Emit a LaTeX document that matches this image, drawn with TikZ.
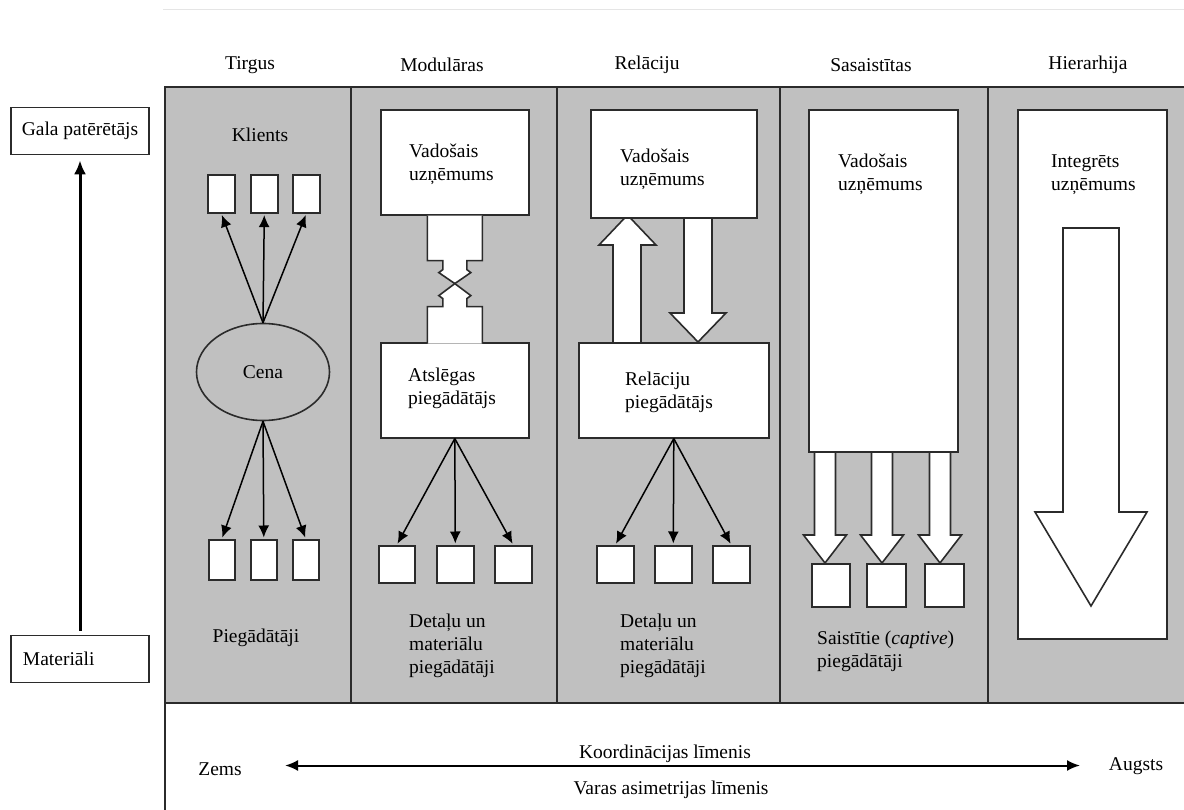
\documentclass[tikz,border=0pt]{standalone}
\usepackage{fontspec}
\setmainfont{Liberation Serif}
\usetikzlibrary{shapes.geometric,arrows.meta}
\definecolor{bgc}{HTML}{C0C0C0}
\definecolor{lc}{HTML}{2B2B2B}
\newcommand\mybox[5]{\node[box, minimum width=#4pt, minimum height=#5pt] (#1) at (#2,#3) {};}
\begin{document}
\begin{tikzpicture}[x=1pt,y=-1pt,
  every node/.style={font=\fontsize{19.5}{23}\selectfont, inner sep=0pt, text=black},
  box/.style={draw=lc, fill=white, line width=1.6pt, inner sep=0pt, anchor=north west},
  txt/.style={align=left, anchor=west, yshift=-3pt},
  lbl/.style={yshift=-2pt},
  thinarrow/.style={draw=black, line width=1.5pt, -{Latex[length=12pt,width=11pt]}, shorten >=1.5pt},
  blockarrow/.style={draw=lc, fill=white, line width=1.6pt, line join=miter},
  frame/.style={draw=lc, line width=1.6pt}]

\useasboundingbox (0,0) rectangle (1184,810);
\fill[white] (0,0) rectangle (1184,810);
\draw[black!10, line width=1pt] (163,10) -- (1184,10);

% grey panel
\fill[bgc] (165,87) rectangle (1184,703);
\draw[frame] (165,810) -- (165,87) -- (1184,87);
\draw[frame] (165,703) -- (1184,703);
\foreach \xx in {351,557,780,988} \draw[frame] (\xx,87) -- (\xx,703);

% headers
\node[lbl] (hT) at (250,63) {Tirgus};
\node[lbl] (hM) at (442,63) {Modulāras};
\node[lbl] (hR) at (647,63) {Relāciju};
\node[lbl] (hS) at (871,63) {Sasaistītas};
\node[lbl] (hH) at (1088,63) {Hierarhija};

% left side
\node[draw=lc, line width=1.6pt, fill=white, minimum width=138pt, minimum height=47pt] (gala) at (80,131) {Gala patērētājs};
\node[draw=lc, line width=1.6pt, fill=white, minimum width=138pt, minimum height=47pt, text width=114pt, align=left] (mat) at (80,659) {Materiāli};
\draw[draw=black, line width=3pt, -{Latex[length=14pt,width=12pt]}, shorten <=4pt, shorten >=5pt] (mat.north) -- (gala.south);

% ---- Tirgus
\node[lbl] (klients) at (260,133) {Klients};
\mybox{kt1}{207}{174}{27}{38}
\mybox{kt2}{250}{174}{27}{38}
\mybox{kt3}{292}{174}{27}{38}
\node[ellipse, draw=lc, line width=1.6pt, fill=bgc, minimum width=133pt, minimum height=97pt] (cena) at (263,372) {Cena};
\foreach \b in {kt1,kt2,kt3} \draw[thinarrow] (cena.north) -- (\b.south);
\mybox{kb1}{208}{539}{26}{40}
\mybox{kb2}{250}{539}{26}{40}
\mybox{kb3}{292}{539}{26}{40}
\foreach \b in {kb1,kb2,kb3} \draw[thinarrow] (cena.south) -- (\b.north);
\node[lbl] (pieg) at (256,636) {Piegādātāji};

% ---- Modulāras
\mybox{m1}{380}{109}{148}{105}
\mybox{m2}{380}{342}{148}{95}
\begin{scope}[shift={(m1.south)}]
  \draw[blockarrow] (-27.5,0) -- (-27.5,45) -- (-12,45) -- (-12,54) -- (-16,57) -- (0,68)
     -- (16,57) -- (12,54) -- (12,45) -- (27.5,45) -- (27.5,0);
  \draw[blockarrow] (-27.5,128) -- (-27.5,91) -- (-12,91) -- (-12,83) -- (-16,80) -- (0,68)
     -- (16,80) -- (12,83) -- (12,91) -- (27.5,91) -- (27.5,128);
\end{scope}
\node[txt] (m1t) at (409,161.5) {Vadošais\\uzņēmums};
\node[txt] (m2t) at (408,385) {Atslēgas\\piegādātājs};
\mybox{mb1}{378}{545}{36}{37}
\mybox{mb2}{436}{545}{37}{37}
\mybox{mb3}{494}{545}{37}{37}
\foreach \b in {mb1,mb2,mb3} \draw[thinarrow] (m2.south) -- (\b.north);
\node[txt] (mbt) at (409,643) {Detaļu un\\materiālu\\piegādātāji};

% ---- Relāciju
\draw[blockarrow] (613,342) -- (613,245) -- (599,245) -- (627.5,215) -- (656,245) -- (641,245) -- (641,342);
\draw[blockarrow] (684,217) -- (684,313) -- (670,313) -- (698,342) -- (726,313) -- (712,313) -- (712,217);
\mybox{r1}{590}{109}{166}{108}
\mybox{r2}{578}{342}{190}{95}
\node[txt] (r1t) at (620,166.5) {Vadošais\\uzņēmums};
\node[txt] (r2t) at (625,389) {Relāciju\\piegādātājs};
\mybox{rb1}{596}{545}{37}{37}
\mybox{rb2}{654}{545}{37}{37}
\mybox{rb3}{712}{545}{37}{37}
\foreach \b in {rb1,rb2,rb3} \draw[thinarrow] (r2.south) -- (\b.north);
\node[txt] (rbt) at (620,643) {Detaļu un\\materiālu\\piegādātāji};

% ---- Sasaistītas
\foreach \cx in {825,882,940}
  \draw[blockarrow] (\cx-10.5,451) -- (\cx-10.5,535) -- (\cx-21.5,535) -- (\cx,563) -- (\cx+21.5,535) -- (\cx+10.5,535) -- (\cx+10.5,451);
\mybox{s1}{808}{109}{149}{342}
\node[txt] (s1t) at (838,171.5) {Vadošais\\uzņēmums};
\mybox{sb1}{811}{563}{38}{43}
\mybox{sb2}{866}{563}{39}{43}
\mybox{sb3}{924}{563}{39}{43}
\node[txt] (sbt) at (817,648.5) {Saistītie (\textit{captive})\\piegādātāji};

% ---- Hierarhija
\mybox{h1}{1017}{109}{149}{529}
\node[txt] (h1t) at (1051,171.5) {Integrēts\\uzņēmums};
\draw[blockarrow] (1063,228) -- (1063,512) -- (1035,512) -- (1091,606) -- (1147,512) -- (1119,512) -- (1119,228) -- cycle;

% ---- bottom scale
\node[lbl] (zems) at (220,767) {Zems};
\node[lbl] (augsts) at (1136,764) {Augsts};
\coordinate (la) at (285,765.5);
\coordinate (ra) at (1080,765.5);
\draw[line width=2pt, {Latex[length=13pt,width=11pt]}-{Latex[length=13pt,width=11pt]}] (la) -- (ra);
\node[lbl] (koord) at (665,752) {Koordinācijas līmenis};
\node[lbl] (varas) at (671,788) {Varas asimetrijas līmenis};
\end{tikzpicture}
\end{document}
